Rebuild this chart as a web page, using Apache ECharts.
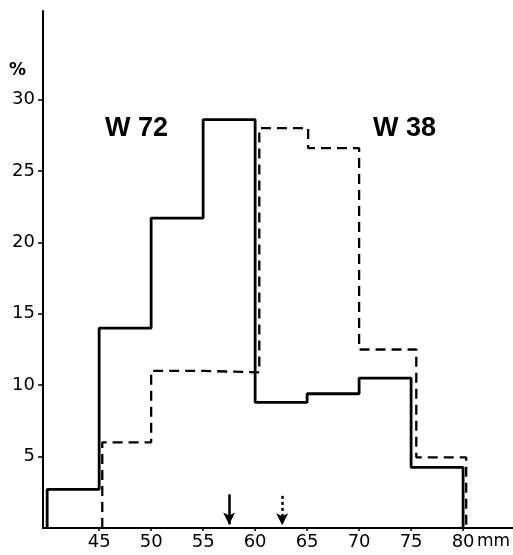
<!DOCTYPE html>
<html>
<head>
<meta charset="utf-8">
<script src="https://cdn.jsdelivr.net/npm/echarts@6/dist/echarts.min.js"></script>
<style>
  html, body { margin: 0; padding: 0; background: #fff; }
  #chart { width: 513px; height: 555px; }
</style>
</head>
<body>
<div id="chart"></div>
<script>
// W 72 (solid) histogram, bin edges in mm and % per bin
const w72Edges = [40, 45, 50, 55, 60, 65, 70, 75, 80]
const w72Values = [2.7, 14.0, 21.7, 28.6, 8.8, 9.4, 10.5, 4.25]
// W 38 (dashed) histogram, drawn slightly offset in the original
const w38Edges = [45.3, 50, 55, 60.4, 65.1, 70, 75.5, 80.3]
const w38Values = [6.0, 11.0, 10.9, 28.0, 26.6, 12.5, 4.95]
// mean markers (arrows) on the x axis
const w72Mean = 57.5
const w38Mean = 62.6
const xTicks = [45, 50, 55, 60, 65, 70, 75, 80]
const yTicks = [5, 10, 15, 20, 25, 30]

// turn edges + values into the corner points of a step outline
function outline(edges, values) {
  const pts = [[edges[0], 0]]
  values.forEach((v, i) => {
    pts.push([edges[i], v])
    pts.push([edges[i + 1], v])
  })
  pts.push([edges[edges.length - 1], 0])
  return pts
}

const font = 'DejaVu Sans'
const chart = echarts.init(document.getElementById('chart'))
const option = {
  animation: false,
  grid: { left: 43, right: 0, top: 11, bottom: 27, containLabel: false },
  xAxis: {
    type: 'value',
    min: 39.6,
    max: 84.8,
    axisLine: { show: true, lineStyle: { color: '#000', width: 2 } },
    axisTick: { show: true, length: 3, customValues: xTicks, lineStyle: { color: '#000', width: 1.5 } },
    axisLabel: {
      customValues: xTicks,
      color: '#000',
      fontFamily: font,
      fontSize: 18,
      margin: 5
    },
    splitLine: { show: false }
  },
  yAxis: {
    type: 'value',
    min: 0,
    max: 36.2,
    axisLine: { show: true, lineStyle: { color: '#000', width: 2 } },
    axisTick: { show: true, length: 5, customValues: yTicks, lineStyle: { color: '#000', width: 1.5 } },
    axisLabel: {
      customValues: yTicks,
      color: '#000',
      fontFamily: font,
      fontSize: 18,
      margin: 8
    },
    splitLine: { show: false }
  },
  graphic: [
    { type: 'text', left: 9, top: 62, style: { text: '%', font: 'bold 17px DejaVu Sans', fill: '#000' } },
    { type: 'text', left: 105, top: 115, style: { text: 'W 72', font: 'bold 27px Liberation Sans', fill: '#000' } },
    { type: 'text', left: 373, top: 115, style: { text: 'W 38', font: 'bold 27px Liberation Sans', fill: '#000' } },
    { type: 'text', left: 477, top: 533, style: { text: 'mm', font: '17px DejaVu Sans', fill: '#000' } }
  ],
  series: [
    {
      name: 'W 72',
      type: 'line',
      data: outline(w72Edges, w72Values),
      symbol: 'none',
      lineStyle: { color: '#000', width: 2.8 },
      markLine: {
        silent: true,
        symbol: ['none', 'arrow'],
        symbolSize: [9, 12],
        label: { show: false },
        lineStyle: { color: '#000', width: 2.5, type: 'solid' },
        data: [[{ coord: [w72Mean, 2.36] }, { coord: [w72Mean, 0.25] }]]
      }
    },
    {
      name: 'W 38',
      type: 'line',
      data: outline(w38Edges, w38Values),
      symbol: 'none',
      lineStyle: { color: '#000', width: 2.3, type: [10, 6] },
      markLine: {
        silent: true,
        symbol: ['none', 'arrow'],
        symbolSize: [9, 12],
        label: { show: false },
        lineStyle: { color: '#000', width: 2.5, type: [3, 3] },
        data: [[{ coord: [w38Mean, 2.25] }, { coord: [w38Mean, 0.2] }]]
      }
    }
  ]
}
chart.setOption(option)
</script>
</body>
</html>
